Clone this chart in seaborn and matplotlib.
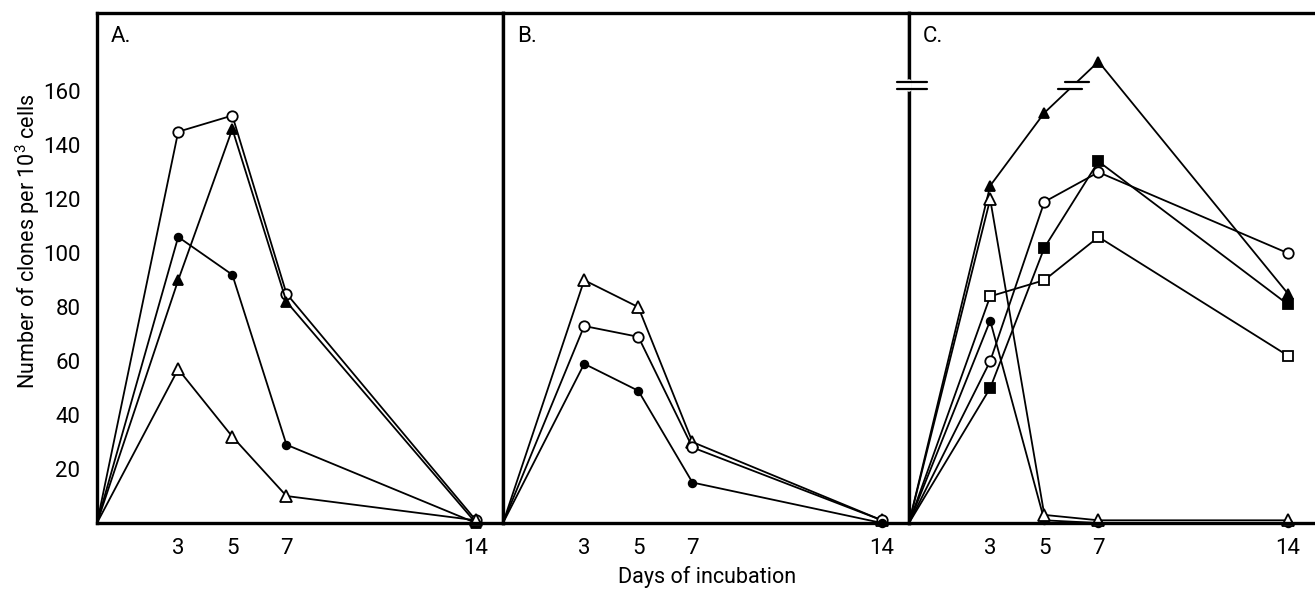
import numpy as np
import pandas as pd
import matplotlib
matplotlib.use("Agg")
import matplotlib.pyplot as plt
import matplotlib.transforms as mtransforms
import seaborn as sns

# Days of incubation
days = [0, 3, 5, 7, 14]
x_ticks = [3, 5, 7, 14]
y_ticks = [20, 40, 60, 80, 100, 120, 140, 160]
panel_labels = ["A.", "B.", "C."]

# Panel A: number of clones per 10^3 cells
a_open_circle = [0, 145, 151, 85, 1]
a_filled_triangle = [0, 90, 146, 82, 0]
a_filled_circle = [0, 106, 92, 29, 0]
a_open_triangle = [0, 57, 32, 10, 1]

# Panel B
b_open_triangle = [0, 90, 80, 30, 1]
b_open_circle = [0, 73, 69, 28, 1]
b_filled_circle = [0, 59, 49, 15, 0]

# Panel C
c_filled_triangle = [0, 125, 152, 171, 85]
c_open_circle = [0, 60, 119, 130, 100]
c_filled_square = [0, 50, 102, 134, 81]
c_open_square = [0, 84, 90, 106, 62]
c_filled_circle = [0, 75, 1, 0, 0]
c_open_triangle = [0, 120, 3, 1, 1]

# marker styles: (marker, filled, size)
STYLES = {
    "open_circle": ("o", False, 7.5),
    "filled_circle": ("o", True, 5.5),
    "open_triangle": ("^", False, 8.5),
    "filled_triangle": ("^", True, 7.5),
    "open_square": ("s", False, 7.5),
    "filled_square": ("s", True, 7.0),
}

panels = [
    [("open_circle", a_open_circle), ("filled_triangle", a_filled_triangle),
     ("filled_circle", a_filled_circle), ("open_triangle", a_open_triangle)],
    [("open_triangle", b_open_triangle), ("open_circle", b_open_circle),
     ("filled_circle", b_filled_circle)],
    [("filled_triangle", c_filled_triangle), ("open_circle", c_open_circle),
     ("filled_square", c_filled_square), ("open_square", c_open_square),
     ("filled_circle", c_filled_circle), ("open_triangle", c_open_triangle)],
]

sns.set_theme(style="white")
plt.rcParams["font.family"] = ["Roboto", "DejaVu Sans"]
plt.rcParams["mathtext.fontset"] = "custom"
plt.rcParams["mathtext.rm"] = "Roboto"
plt.rcParams["text.color"] = "black"
plt.rcParams["xtick.color"] = "black"
plt.rcParams["ytick.color"] = "black"
plt.rcParams["xtick.labelcolor"] = "black"
plt.rcParams["ytick.labelcolor"] = "black"

FS_TICK = 16
FS_LABEL = 15.5

W, H = 1315, 593
fig = plt.figure(figsize=(W / 100, H / 100), dpi=100)
left_px, right_px, top_px, bottom_px = 97, 1315, 13, 523
pw = (right_px - left_px) / 3
axes = []
for i in range(3):
    ax = fig.add_axes([(left_px + i * pw) / W, 1 - bottom_px / H,
                       pw / W, (bottom_px - top_px) / H])
    axes.append(ax)

for i, (ax, series) in enumerate(zip(axes, panels)):
    for name, vals in series:
        marker, filled, ms = STYLES[name]
        df = pd.DataFrame({"day": days, "value": vals})
        sns.lineplot(data=df, x="day", y="value", ax=ax, color="black",
                     lw=1.3, marker=marker, markersize=ms,
                     markerfacecolor="black" if filled else "white",
                     markeredgecolor="black", markeredgewidth=1.3,
                     markevery=slice(1, None), zorder=3, clip_on=False)
    ax.set_xlim(0, 15)
    ax.set_ylim(0, 189)
    ax.set_xticks(x_ticks)
    ax.set_xticklabels([str(t) for t in x_ticks], fontsize=FS_TICK)
    ax.set_yticks(y_ticks)
    if i == 0:
        ax.set_yticklabels([str(t) for t in y_ticks], fontsize=FS_TICK)
    else:
        ax.set_yticklabels([])
    ax.tick_params(axis="both", direction="in", length=9, width=1.6,
                   color="black")
    ax.tick_params(axis="x", pad=11)
    ax.tick_params(axis="y", pad=12)
    ax.set_xlabel("")
    ax.set_ylabel("")
    for side, sp in ax.spines.items():
        sp.set_color("black")
        sp.set_linewidth(2.4)
        sp.set_zorder(4)
    ax.text(0.035, 0.975, panel_labels[i], transform=ax.transAxes,
            fontsize=FS_TICK, va="top", ha="left")

# Axis break on panel C: on the y axis and on the day 5 -> 7 segment
axc = axes[2]
axc.spines["right"].set_visible(False)
yb_lo, yb_hi = 161.0, 163.4
blend = mtransforms.blended_transform_factory(axc.transAxes, axc.transData)
axc.plot([0, 0], [yb_lo, yb_hi], color="white", lw=4, transform=blend,
         clip_on=False, zorder=6)
for yb in (yb_lo, yb_hi):
    axc.plot([-0.03, 0.045], [yb, yb], color="black", lw=1.6,
             transform=blend, clip_on=False, zorder=7)

x5, x7 = days[2], days[3]
y5, y7 = c_filled_triangle[2], c_filled_triangle[3]
def seg_x(y):
    return x5 + (x7 - x5) * (y - y5) / (y7 - y5)
axc.plot([seg_x(yb_lo), seg_x(yb_hi)], [yb_lo, yb_hi], color="white", lw=4,
         zorder=5, solid_capstyle="butt")
for yb in (yb_lo, yb_hi):
    xc = seg_x(yb)
    axc.plot([xc - 0.45, xc + 0.45], [yb, yb], color="black", lw=1.6, zorder=6)

fig.text(707 / W, 1 - 577 / H, "Days of incubation", ha="center", va="center",
         fontsize=FS_LABEL)
fig.text(28 / W, 1 - 241 / H, r"Number of clones per 10$^{3}$ cells",
         rotation=90, ha="center", va="center", fontsize=FS_LABEL)

fig.savefig("out.png", dpi=100)
